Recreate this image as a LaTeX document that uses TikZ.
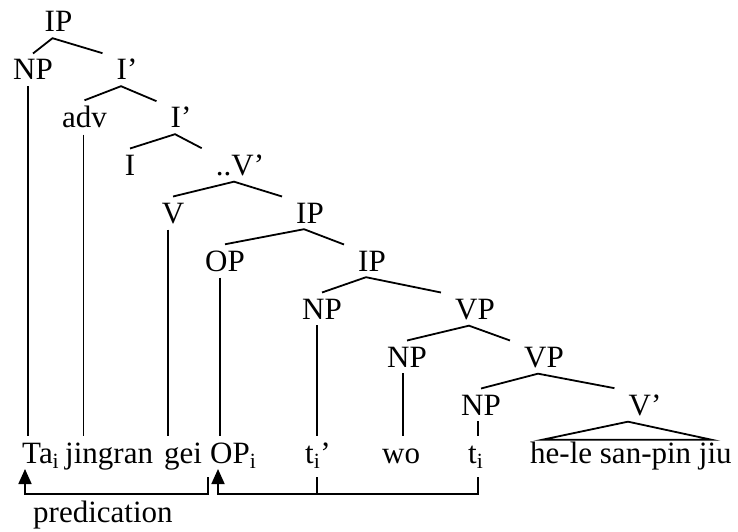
\documentclass[tikz,border=0pt]{standalone}
\usepackage{fontspec}
\setmainfont{Liberation Serif}
\usetikzlibrary{arrows.meta}

\begin{document}
\begin{tikzpicture}[
  x=1pt, y=-1pt,
  lab/.style={anchor=base, inner xsep=2pt, inner ysep=6pt, font=\fontsize{31}{36}\selectfont},
  word/.style={anchor=base west, inner xsep=0pt, inner ysep=6pt, text height=21pt, font=\fontsize{31}{36}\selectfont},
  branch/.style={line width=1.8pt},
  arrow/.style={-{Triangle[length=15pt,width=13pt]}, line width=1.8pt}
]
\useasboundingbox (0,0) rectangle (738,532);

% tree labels
\node[lab] (ip0) at (58.5,32) {IP};
\node[lab] (np1) at (33,80) {NP};
\node[lab] (ibar1) at (127,80) {I’};
\node[lab] (adv) at (84.5,128) {adv};
\node[lab] (ibar2) at (181,128) {I’};
\node[lab] (infl) at (130,175) {I};
\node[lab] (vbar3) at (240,175) {..V’};
\node[lab] (verb) at (173,223) {V};
\node[lab] (ip4) at (310,223) {IP};
\node[lab] (op) at (225,271) {OP};
\node[lab] (ip5) at (372,271) {IP};
\node[lab] (np6) at (322,319) {NP};
\node[lab] (vp6) at (475,319) {VP};
\node[lab] (np7) at (407,367) {NP};
\node[lab] (vp7) at (544,367) {VP};
\node[lab] (np8) at (481,415) {NP};
\node[lab] (vbar8) at (645,415) {V’};

% words
\node[word] (ta) at (22,463) {Ta\textsubscript{i}};
\node[word] (jingran) at (65,463) {jingran};
\node[word] (gei) at (164,463) {gei};
\node[word] (opw) at (210,463) {OP\textsubscript{i}};
\node[word] (tprime) at (305,463) {t\textsubscript{i}’};
\node[word] (wo) at (382,463) {wo};
\node[word] (ti) at (468,463) {t\textsubscript{i}};
\node[word] (hele) at (530,463) {he-le san-pin jiu};
\node[word] (pred) at (33,522) {predication};

% branches
\draw[branch] (np1.north) -- ([xshift=-6pt]ip0.south) -- ([xshift=-12pt]ibar1.north west);
\draw[branch] (adv.north) -- ([xshift=-6pt]ibar1.south) -- ([xshift=-12pt]ibar2.north west);
\draw[branch] (infl.north) -- ([xshift=-6pt]ibar2.south) -- ([xshift=-12pt]vbar3.north west);
\draw[branch] (verb.north) -- ([xshift=-6pt]vbar3.south) -- ([xshift=-12pt]ip4.north west);
\draw[branch] (op.north) -- ([xshift=-6pt]ip4.south) -- ([xshift=-12pt]ip5.north west);
\draw[branch] (np6.north) -- ([xshift=-6pt]ip5.south) -- ([xshift=-12pt]vp6.north west);
\draw[branch] (np7.north) -- ([xshift=-6pt]vp6.south) -- ([xshift=-12pt]vp7.north west);
\draw[branch] (np8.north) -- ([xshift=-6pt]vp7.south) -- ([xshift=-12pt]vbar8.north west);
\draw[branch] ([xshift=-17pt]vbar8.south) -- ([xshift=12pt,yshift=-4pt]hele.north west)
  -- ([xshift=-20pt,yshift=-4pt]hele.north east) -- cycle;

% lines down to the words
\draw[branch] ([xshift=-5pt]np1.south) -- ([xshift=-5pt]np1.south |- ta.north);
\draw[branch] ([xshift=-1pt]adv.south) -- ([xshift=-1pt]adv.south |- jingran.north);
\draw[branch] ([xshift=-5pt]verb.south) -- ([xshift=-5pt]verb.south |- gei.north);
\draw[branch] ([xshift=-5pt]op.south) -- ([xshift=-5pt]op.south |- opw.north);
\draw[branch] ([xshift=-5pt]np6.south) -- ([xshift=-5pt]np6.south |- tprime.north);
\draw[branch] ([xshift=-4pt]np7.south) -- ([xshift=-4pt]np7.south |- wo.north);
\draw[branch] ([xshift=-3pt]np8.south) -- ([xshift=-3pt]np8.south |- ti.north);

% predication and binding
\draw[arrow] ([xshift=-2pt,yshift=-14pt]opw.base west) -- ([xshift=-2pt,yshift=-31pt]opw.base west)
  -| ([xshift=3pt,yshift=-6pt]ta.base west);
\draw[arrow] ([xshift=-3pt,yshift=-14pt]np8.south |- ti.base) -- ([xshift=-3pt,yshift=-31pt]np8.south |- ti.base)
  -| ([xshift=8pt,yshift=-6pt]opw.base west);
\draw[branch] ([xshift=-5pt,yshift=-14pt]np6.south |- tprime.base) -- ([xshift=-5pt,yshift=-31pt]np6.south |- tprime.base);
\end{tikzpicture}
\end{document}
